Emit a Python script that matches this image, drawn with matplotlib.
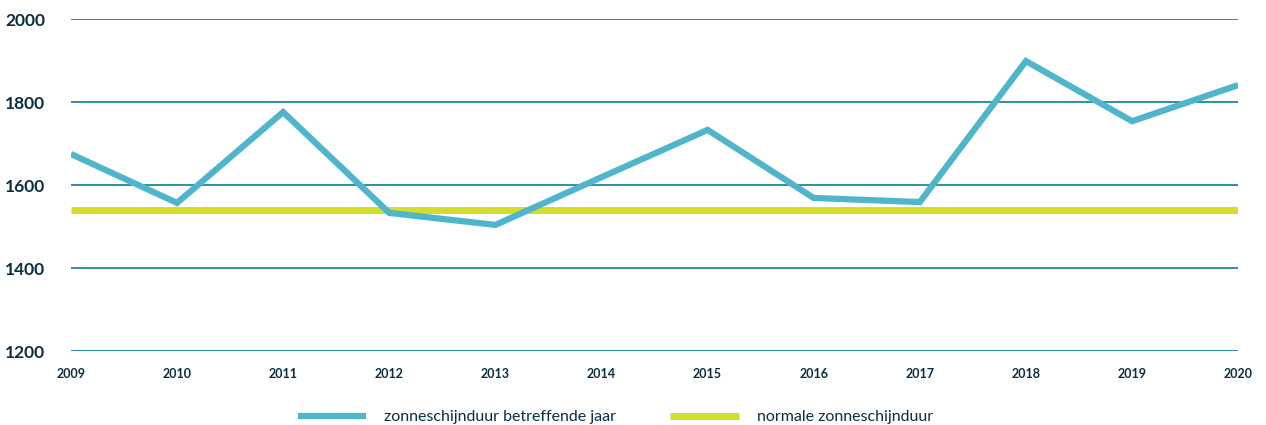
import matplotlib.pyplot as plt

years = [2009, 2010, 2011, 2012, 2013, 2014, 2015, 2016, 2017, 2018, 2019, 2020]
sunshine = [1675, 1557, 1776, 1533, 1504, 1619, 1733, 1569, 1559, 1899, 1754, 1841]
normal = 1540
y_ticks = [1200, 1400, 1600, 1800, 2000]

LINE_BLUE = "#4EB5CB"
NORMAL_GREEN = "#D2DE2A"
GRID = "#0B7E93"
TEXT = "#0B2D42"

plt.rcParams["font.family"] = ["Lato", "DejaVu Sans"]

fig = plt.figure(figsize=(12.66, 4.25), dpi=100)
ax = fig.add_axes([0.056, 0.174, 0.922, 0.781])

for t in y_ticks:
    ax.axhline(t, color=GRID, linewidth=1.2, zorder=1)

ax.plot([years[0], years[-1]], [normal, normal], color=NORMAL_GREEN, linewidth=5,
        solid_capstyle="butt", zorder=2, label="normale zonneschijnduur")
ax.plot(years, sunshine, color=LINE_BLUE, linewidth=4.5, solid_capstyle="butt",
        solid_joinstyle="miter", zorder=3, label="zonneschijnduur betreffende jaar")

ax.set_xlim(years[0], years[-1])
ax.set_ylim(1200, 2000)
ax.set_xticks(years)
ax.set_xticklabels([str(y) for y in years], fontsize=9, fontweight="bold", color=TEXT)
ax.set_yticks(y_ticks)
ax.set_yticklabels([str(t) for t in y_ticks], fontsize=12.5, fontweight="bold", color=TEXT,
                   ha="left")
ax.tick_params(axis="y", length=0, pad=47.5)
ax.tick_params(axis="x", length=0, pad=12)
for s in ax.spines.values():
    s.set_visible(False)

handles, labels = ax.get_legend_handles_labels()
leg = fig.legend(handles[::-1], labels[::-1], loc="center", bbox_to_anchor=(0.486, 0.018),
                 ncol=2, frameon=False, fontsize=11.5, handlelength=4.3,
                 handletextpad=1.1, columnspacing=3.4)
for txt in leg.get_texts():
    txt.set_color(TEXT)

fig.savefig("out.png", dpi=100, facecolor="white")
